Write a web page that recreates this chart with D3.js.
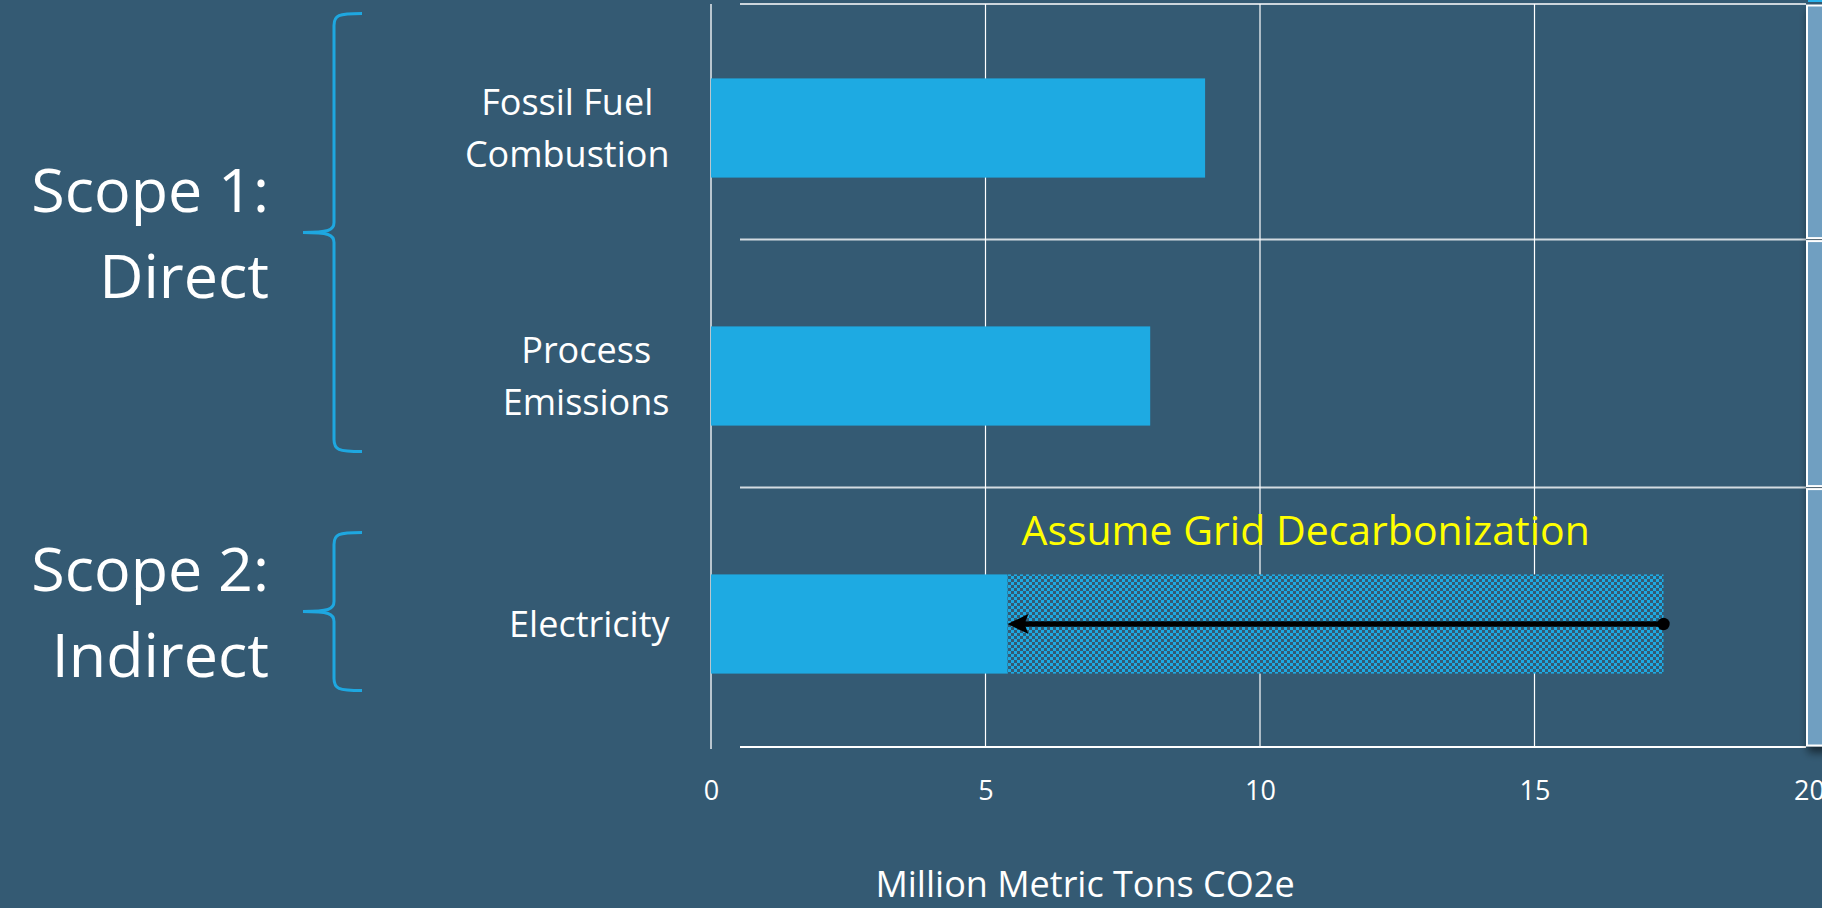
<!DOCTYPE html>
<html>
<head>
<meta charset="utf-8">
<script src="https://cdn.jsdelivr.net/npm/d3@7"></script>
<style>
  html, body { margin: 0; padding: 0; background: #345a73; overflow: hidden; }
  svg { display: block; font-family: "Open Sans", sans-serif; }
</style>
</head>
<body>
<script>
// chart values
const categories = ["Fossil Fuel Combustion", "Process Emissions", "Electricity"];
const categoryLines = [["Fossil Fuel", "Combustion"], ["Process", "Emissions"], ["Electricity"]];
const values = [9.0, 8.0, 5.4];           // current / after decarbonization
const beforeDecarb = [0, 0, 17.35];       // electricity before grid decarbonization
const xTicks = [0, 5, 10, 15, 20];
const scopeLabels = [["Scope 1:", "Direct"], ["Scope 2:", "Indirect"]];
const scopeCats = [["Fossil Fuel Combustion", "Process Emissions"], ["Electricity", "Electricity"]];
const annotation = "Assume Grid Decarbonization";
const axisTitle = "Million Metric Tons CO2e";

const width = 1822, height = 908;
const bg = '#345a73', barColor = '#1eaae2';

const svg = d3.select('body').append('svg')
  .attr('width', width)
  .attr('height', height);

svg.append('rect').attr('width', width).attr('height', height).attr('fill', bg);

// scales
const x = d3.scaleLinear().domain([0, 20]).range([711, 1809]);
const y = d3.scaleBand()
  .domain(categories)
  .range([4, 748])
  .paddingInner(0.6)
  .paddingOuter(0.3);
const step = y.step(), bw = y.bandwidth();

// checker pattern for the "before" part of the electricity bar
const defs = svg.append('defs');
const pat = defs.append('pattern')
  .attr('id', 'checker')
  .attr('width', 6).attr('height', 6)
  .attr('patternUnits', 'userSpaceOnUse');
pat.append('rect').attr('width', 6).attr('height', 6).attr('fill', barColor);
pat.append('rect').attr('width', 3).attr('height', 3).attr('fill', bg);
pat.append('rect').attr('x', 3).attr('y', 3).attr('width', 3).attr('height', 3).attr('fill', bg);

const shadow = defs.append('filter').attr('id', 'shadow')
  .attr('x', '-50%').attr('y', '-10%').attr('width', '200%').attr('height', '130%');
shadow.append('feDropShadow')
  .attr('dx', 2).attr('dy', 6).attr('stdDeviation', 4)
  .attr('flood-color', '#000').attr('flood-opacity', 0.55);

// row divider lines
const rowLines = [y.range()[0]]
  .concat(categories.slice(1).map(c => y(c) - 0.35 * step))
  .concat([y.range()[1] - 1]);

svg.append('g').selectAll('line')
  .data(rowLines)
  .enter().append('line')
    .attr('x1', 740).attr('x2', 1806)
    .attr('y1', d => d).attr('y2', d => d)
    .attr('stroke', (d, i) => (i === 0 || i === rowLines.length - 1) ? '#ffffff' : '#d3dbe1')
    .attr('stroke-width', (d, i) => i === 0 ? 1.5 : 2);

// vertical gridlines
svg.append('g').selectAll('line')
  .data(xTicks.filter(t => t > 0 && t < 20))
  .enter().append('line')
    .attr('x1', d => x(d)).attr('x2', d => x(d))
    .attr('y1', rowLines[0]).attr('y2', rowLines[rowLines.length - 1])
    .attr('stroke', '#ffffff')
    .attr('stroke-width', 1.2);

// zero axis line
svg.append('line')
  .attr('x1', x(0)).attr('x2', x(0))
  .attr('y1', rowLines[0]).attr('y2', rowLines[rowLines.length - 1] + 2)
  .attr('stroke', '#b9c6cf')
  .attr('stroke-width', 2);

// right-hand panel (cut off at page edge)
const panel = svg.append('g').attr('filter', 'url(#shadow)');
panel.selectAll('rect')
  .data(d3.pairs(rowLines))
  .enter().append('rect')
    .attr('x', 1807).attr('width', 40)
    .attr('y', d => d[0] + 1.5)
    .attr('height', d => d[1] - d[0] - 3)
    .attr('fill', '#6f9fc1')
    .attr('stroke', '#ffffff')
    .attr('stroke-width', 2);
svg.append('rect').attr('x', 1808).attr('y', 0).attr('width', 20).attr('height', 2).attr('fill', '#29b4ee');

// hatched "before" bar
svg.append('g').selectAll('rect')
  .data(categories.map((c, i) => ({ c, v: values[i], b: beforeDecarb[i] })).filter(d => d.b > d.v))
  .enter().append('rect')
    .attr('x', d => x(d.v))
    .attr('y', d => y(d.c))
    .attr('width', d => x(d.b) - x(d.v))
    .attr('height', bw)
    .attr('fill', 'url(#checker)');

// bars
svg.append('g').selectAll('rect')
  .data(categories.map((c, i) => ({ c, v: values[i] })))
  .enter().append('rect')
    .attr('x', x(0))
    .attr('y', d => y(d.c))
    .attr('width', d => x(d.v) - x(0))
    .attr('height', bw)
    .attr('fill', barColor);

// decarbonization arrow
const ei = categories.indexOf("Electricity");
const ay = y("Electricity") + bw / 2;
const ax0 = x(beforeDecarb[ei]), ax1 = x(values[ei]);
svg.append('line')
  .attr('x1', ax0).attr('x2', ax1 + 16)
  .attr('y1', ay).attr('y2', ay)
  .attr('stroke', '#000').attr('stroke-width', 5.5);
svg.append('path')
  .attr('d', `M${ax1},${ay} L${ax1 + 21},${ay - 10} L${ax1 + 17},${ay} L${ax1 + 21},${ay + 10} Z`)
  .attr('fill', '#000');
svg.append('circle')
  .attr('cx', ax0).attr('cy', ay).attr('r', 6.2)
  .attr('fill', '#000');

svg.append('text')
  .attr('x', ax1 + 14)
  .attr('y', y("Electricity") - 29)
  .attr('fill', '#ffff00')
  .style('font-size', '41px')
  .text(annotation);

// category labels: lines centred on each other, block right-aligned
const labelRight = 669.5, labelSize = 36, labelLh = 51.5;
categories.forEach((c, i) => {
  const lines = categoryLines[i];
  const g = svg.append('g');
  const cy = y(c) + bw / 2;
  const texts = lines.map((t, j) => g.append('text')
    .attr('y', cy - (lines.length - 1) / 2 * labelLh + j * labelLh + 0.357 * labelSize)
    .attr('text-anchor', 'middle')
    .attr('fill', '#fff')
    .style('font-size', labelSize + 'px')
    .text(t));
  const maxW = d3.max(texts, t => t.node().getComputedTextLength());
  texts.forEach(t => t.attr('x', labelRight - maxW / 2));
});

// x tick labels
const xAxis = svg.append('g')
  .attr('transform', 'translate(0,800)')
  .call(d3.axisBottom(x).tickValues(xTicks).tickSize(0).tickPadding(0));
xAxis.select('.domain').remove();
xAxis.selectAll('text')
  .attr('y', 0).attr('dy', 0)
  .attr('fill', '#fff')
  .style('font-family', '"Open Sans", sans-serif')
  .style('font-size', '27px');

svg.append('text')
  .attr('x', 1085).attr('y', 897)
  .attr('text-anchor', 'middle')
  .attr('fill', '#fff')
  .style('font-size', '36px')
  .text(axisTitle);

// scope braces and labels
const bracePad = [[65, 26], [42, 17]];
scopeLabels.forEach((lbl, i) => {
  const top = y(scopeCats[i][0]) - bracePad[i][0];
  const bot = y(scopeCats[i][1]) + bw + bracePad[i][1];
  const mid = (top + bot) / 2;
  const sx = 334, ex = 362, tx = 303;
  svg.append('path')
    .attr('d', `M${ex},${top} C${sx + 4},${top} ${sx},${top + 2} ${sx},${top + 12}
                L${sx},${mid - 10} C${sx},${mid - 2} ${sx - 6},${mid} ${tx},${mid}
                C${sx - 6},${mid} ${sx},${mid + 2} ${sx},${mid + 10}
                L${sx},${bot - 12} C${sx},${bot - 2} ${sx + 4},${bot} ${ex},${bot}`)
    .attr('fill', 'none')
    .attr('stroke', '#1ea7e0')
    .attr('stroke-width', 3);
  lbl.forEach((t, j) => {
    svg.append('text')
      .attr('x', 269)
      .attr('y', mid - 21 + j * 86)
      .attr('text-anchor', 'end')
      .attr('fill', '#fff')
      .style('font-size', '61px')
      .text(t);
  });
});
</script>
</body>
</html>
